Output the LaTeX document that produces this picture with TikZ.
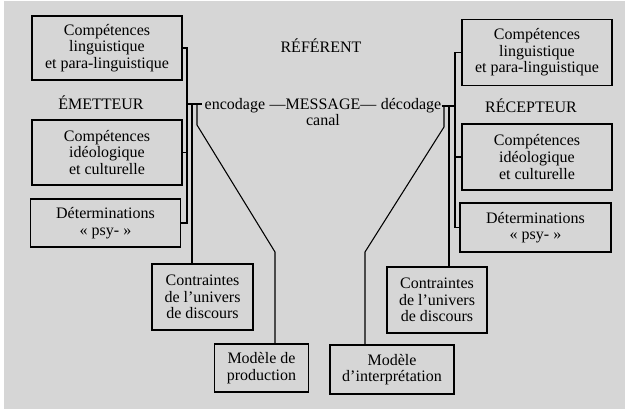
\documentclass[tikz,border=0pt]{standalone}
\usepackage{fontspec}
\setmainfont{Liberation Serif}
\usetikzlibrary{positioning}
\definecolor{paper}{RGB}{214,214,214}

\begin{document}
\begin{tikzpicture}[x=0.75pt, y=-0.75pt,
  every node/.style={font=\fontsize{12}{12.5}\selectfont},
  box/.style={draw, line width=0.8pt, align=center, inner sep=0pt},
  word/.style={inner sep=0pt, anchor=base},
  link/.style={line width=0.8pt}]
% Page
\useasboundingbox (0,0) rectangle (625,409);
\fill[paper] (0,0) rectangle (625,409);
\fill[white] (0,0) rectangle (625,1.5);
\fill[white] (0,0) rectangle (4,409);
% Message
\node[word] (msg) at (323,110) {---MESSAGE---};
\node[word, base left=3pt of msg] (enc) {encodage};
\node[word, base right=3pt of msg] (dec) {décodage};
\node[word] (canal) at (323,126) {canal};
\node[word] (ref) at (321,53) {RÉFÉRENT};
% Emetteur
\node[word] (em) at (101,110) {ÉMETTEUR};
\node[box, minimum width=112.5pt, minimum height=48pt] (l1) at (107,48)
  {Compétences\\linguistique\\et para-linguistique};
\node[box, minimum width=112.5pt, minimum height=48.75pt] (l2) at (107,152.5)
  {Compétences\\idéologique\\et culturelle};
\node[box, minimum width=112pt, minimum height=36pt] (l3) at (105.5,223)
  {Déterminations\\« psy- »};
\node[box, minimum width=75.75pt, minimum height=49.5pt] (l4) at (202.5,297)
  {Contraintes\\de l’univers\\de discours};
\node[box, minimum width=70pt, minimum height=36pt] (l5) at (261.5,368)
  {Modèle de\\production};
% Recepteur
\node[word] (rec) at (531,113) {RÉCEPTEUR};
\node[box, minimum width=112.5pt, minimum height=50pt] (r1) at (537,52.5)
  {Compétences\\linguistique\\et para-linguistique};
\node[box, minimum width=112.5pt, minimum height=49.5pt] (r2) at (537,157)
  {Compétences\\idéologique\\et culturelle};
\node[box, minimum width=113.25pt, minimum height=36.75pt] (r3) at (535.5,227.5)
  {Déterminations\\« psy- »};
\node[box, minimum width=75pt, minimum height=49.5pt] (r4) at (437,300)
  {Contraintes\\de l’univers\\de discours};
\node[box, minimum width=93pt, minimum height=36.75pt] (r5) at (392,369.5)
  {Modèle\\d’interprétation};
% Left links
\coordinate (jl) at (187,104);
\coordinate (jl2) at (192,104);
\coordinate (jl3) at (197,104);
\coordinate (bl) at (275,252);
\draw[link] (l1.east) -- (l1.east -| jl) |- (l3.east);
\draw[link] (l2.east) -- (l2.east -| jl);
\draw[link] (jl) -- ([xshift=-1.5pt]enc.west |- jl);
\draw[link] (jl2) -- (jl2 |- l4.north);
\draw[link] (jl3) -- ++(0,21) -- (bl) -- (bl |- l5.north);
% Right links
\coordinate (jr) at (455,106);
\coordinate (jr2) at (449,106);
\coordinate (jr3) at (444,106);
\coordinate (br) at (365,252);
\draw[link] (r1.west) -- (r1.west -| jr) |- (r3.west);
\draw[link] (r2.west) -- (r2.west -| jr);
\draw[link] (dec.east |- jr) -- (jr);
\draw[link] (jr2) -- (jr2 |- r4.north);
\draw[link] (jr3) -- ++(0,21) -- (br) -- (br |- r5.north);
\end{tikzpicture}
\end{document}
